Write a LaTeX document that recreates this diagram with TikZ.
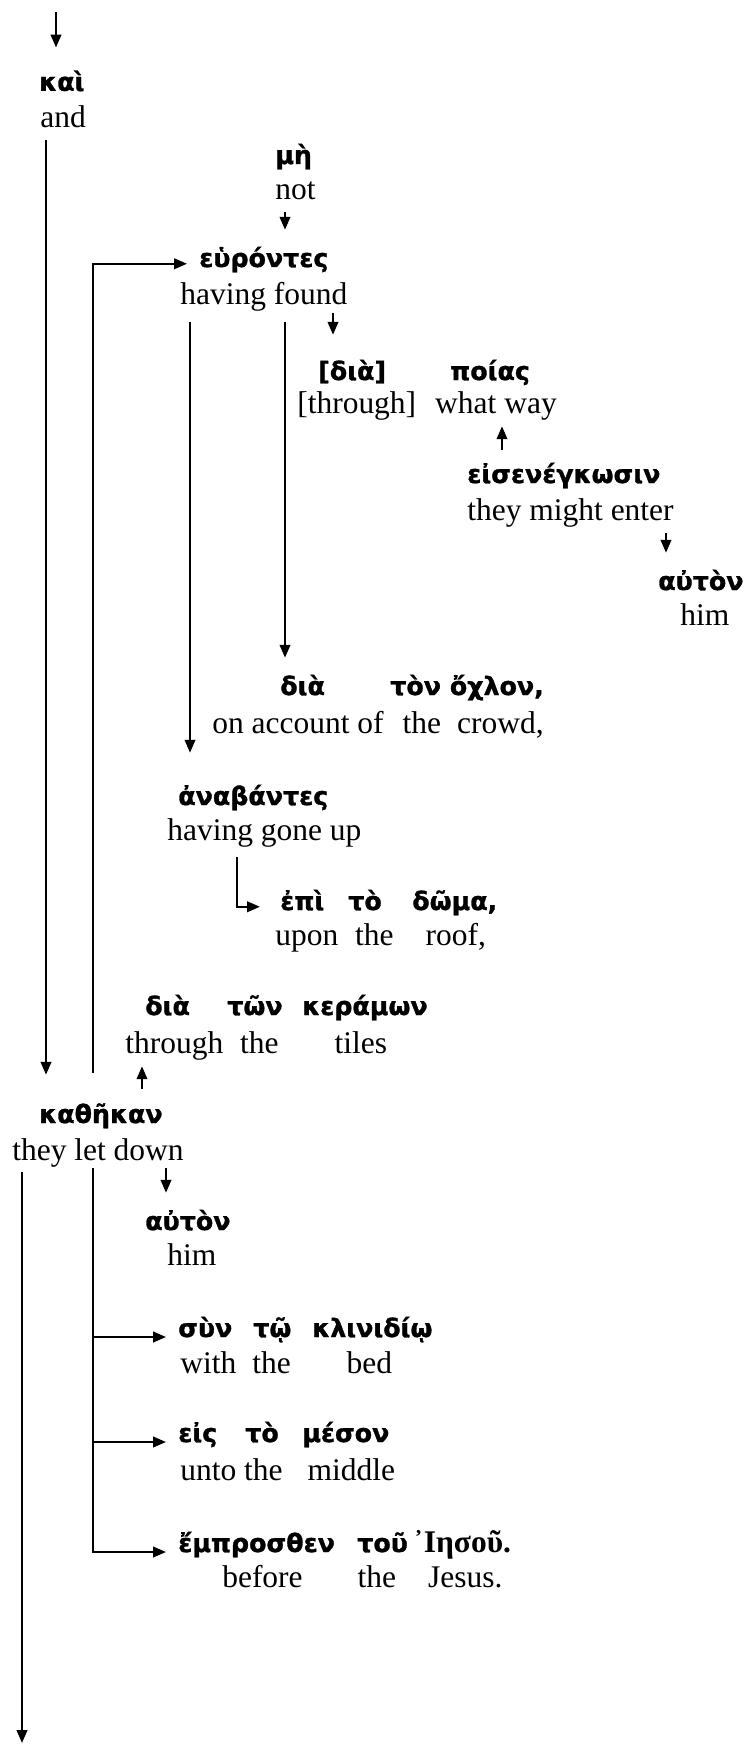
\documentclass[tikz,border=0pt]{standalone}
\usepackage{fontspec}
\setmainfont{Liberation Serif}
\newfontfamily\greekfont[FakeBold=1.2]{DejaVu Sans}
\newcommand{\gkf}{\greekfont\bfseries\fontsize{18}{22}\selectfont}
\newcommand{\enf}{\fontsize{22.4}{27}\selectfont}
\usepackage{tikz}
\usetikzlibrary{arrows.meta}

\tikzset{
  gk/.style={font=\gkf, inner sep=0pt, anchor=base west, text height=0.925cm},
  en/.style={font=\enf, inner sep=0pt, anchor=base west, text depth=0.325cm},
  arr/.style={-{Stealth[length=0.32cm, width=0.26cm, inset=0pt]}, line width=1.6pt}
}

\begin{document}
\begin{tikzpicture}
\useasboundingbox (0,0) rectangle (18.725,-43.625);

\node [gk] (kai) at (0.975,-2.27) {καὶ};
\node [en] (and) at (1.0,-3.2) {and};

\node [gk] (mh) at (6.875,-4.1) {μὴ};
\node [en] (nt) at (6.875,-5.0) {not};

\node [gk] (eu) at (4.975,-6.675) {εὑρόντες};
\node [en] (euE) at (4.5,-7.625) {having found};

\node [gk] (dia) at (7.95,-9.5) {[διὰ]};
\node [gk] (poi) at (11.25,-9.5) {ποίας};
\node [en] (diaE) at (7.425,-10.325) {[through]\hspace{0.475cm}what way};

\node [gk] (eis) at (11.675,-12.075) {εἰσενέγκωσιν};
\node [en] (eisE) at (11.675,-13.0) {they might enter};

\node [gk] (aut) at (16.45,-14.75) {αὐτὸν};
\node [en] (autE) at (17.0,-15.625) {him};

\node [gk] (och) at (7.0,-17.375) {διὰ};
\node [gk] (ochB) at (9.75,-17.375) {τὸν ὄχλον,};
\node [en] (ochE) at (5.3,-18.325) {on account of\hspace{0.475cm}the\hspace{0.4cm}crowd,};

\node [gk] (anab) at (4.45,-20.125) {ἀναβάντες};
\node [en] (anabE) at (4.175,-21.0) {having gone up};

\node [gk] (epi) at (7.0,-22.75) {ἐπὶ};
\node [gk] (epiB) at (8.7,-22.75) {τὸ};
\node [gk] (epiC) at (10.3,-22.75) {δῶμα,};
\node [en] (epiE) at (6.875,-23.625) {upon\hspace{0.425cm}the\hspace{0.8cm}roof,};

\node [gk] (ker) at (3.625,-25.375) {διὰ};
\node [gk] (kerB) at (5.675,-25.375) {τῶν};
\node [gk] (kerC) at (7.55,-25.375) {κεράμων};
\node [en] (kerE) at (3.125,-26.325) {through\hspace{0.425cm}the\hspace{1.4cm}tiles};

\node [gk] (kath) at (0.975,-28.075) {καθῆκαν};
\node [en] (kathE) at (0.3,-29.0) {they let down};

\node [gk] (aut2) at (3.625,-30.75) {αὐτὸν};
\node [en] (aut2E) at (4.175,-31.625) {him};

\node [gk] (syn) at (4.45,-33.425) {σὺν};
\node [gk] (synB) at (6.325,-33.425) {τῷ};
\node [gk] (synC) at (7.8,-33.425) {κλινιδίῳ};
\node [en] (synE) at (4.5,-34.325) {with\hspace{0.4cm}the\hspace{1.4cm}bed};

\node [gk] (eis2) at (4.45,-36.05) {εἰς};
\node [gk] (eis2B) at (6.125,-36.05) {τὸ};
\node [gk] (eis2C) at (7.55,-36.05) {μέσον};
\node [en] (eis2E) at (4.5,-37.0) {unto the\hspace{0.625cm}middle};

\node [gk] (emp) at (4.45,-38.8) {ἔμπροσθεν};
\node [gk] (empB) at (8.925,-38.8) {τοῦ};
\node [gk, font=\enf\bfseries] (empC) at (10.325,-38.8) {᾿Ιησοῦ.};
\node [en] (empE) at (5.55,-39.675) {before\hspace{1.375cm}the\hspace{0.8cm}Jesus.};

% connectors
\coordinate (top) at (1.4,-0.3);
\draw [arr, shorten >=0.15cm] (top) -- (top |- kai.north);

\coordinate (lA) at (1.15,-3.5);
\draw [arr, shorten >=0.275cm] (lA) -- (lA |- kath.north);

\coordinate (c3) at (7.125,-5.3);
\draw [arr] (c3) -- (c3 |- eu.north);

\coordinate (lB) at (2.325,-26.825);
\draw [arr, shorten >=0.3cm] (lB) |- (eu.mid west);

\coordinate (lC) at (4.75,-8.05);
\draw [arr, shorten >=0.375cm] (lC) -- (lC |- anab.north);
\coordinate (lD) at (7.125,-8.05);
\draw [arr] (lD) -- (lD |- och.north);
\coordinate (c6) at (8.325,-7.825);
\draw [arr, shorten >=0.2cm] (c6) -- (c6 |- dia.north);

\coordinate (c7) at (12.55,-11.25);
\draw [arr] (c7) -- (c7 |- diaE.south);
\coordinate (c8) at (16.65,-13.325);
\draw [arr] (c8) -- (c8 |- aut.north);

\coordinate (c9) at (5.925,-21.425);
\draw [arr, shorten >=0.5cm] (c9) |- (epi.mid west);

\coordinate (c10) at (3.55,-27.225);
\draw [arr] (c10) -- (c10 |- kerE.south);
\coordinate (c11) at (4.15,-29.2);
\draw [arr] (c11) -- (c11 |- aut2.north);

\coordinate (lE) at (2.325,-29.2);
\draw [arr, shorten >=0.3cm] (lE) |- (emp.base west);
\draw [arr, shorten >=0.3cm] (lE |- syn.base west) -- (syn.base west);
\draw [arr, shorten >=0.3cm] (lE |- eis2.base west) -- (eis2.base west);

\coordinate (lF) at (0.55,-29.3);
\coordinate (bot) at (0.55,-43.575);
\draw [arr] (lF) -- (bot);
\end{tikzpicture}
\end{document}
